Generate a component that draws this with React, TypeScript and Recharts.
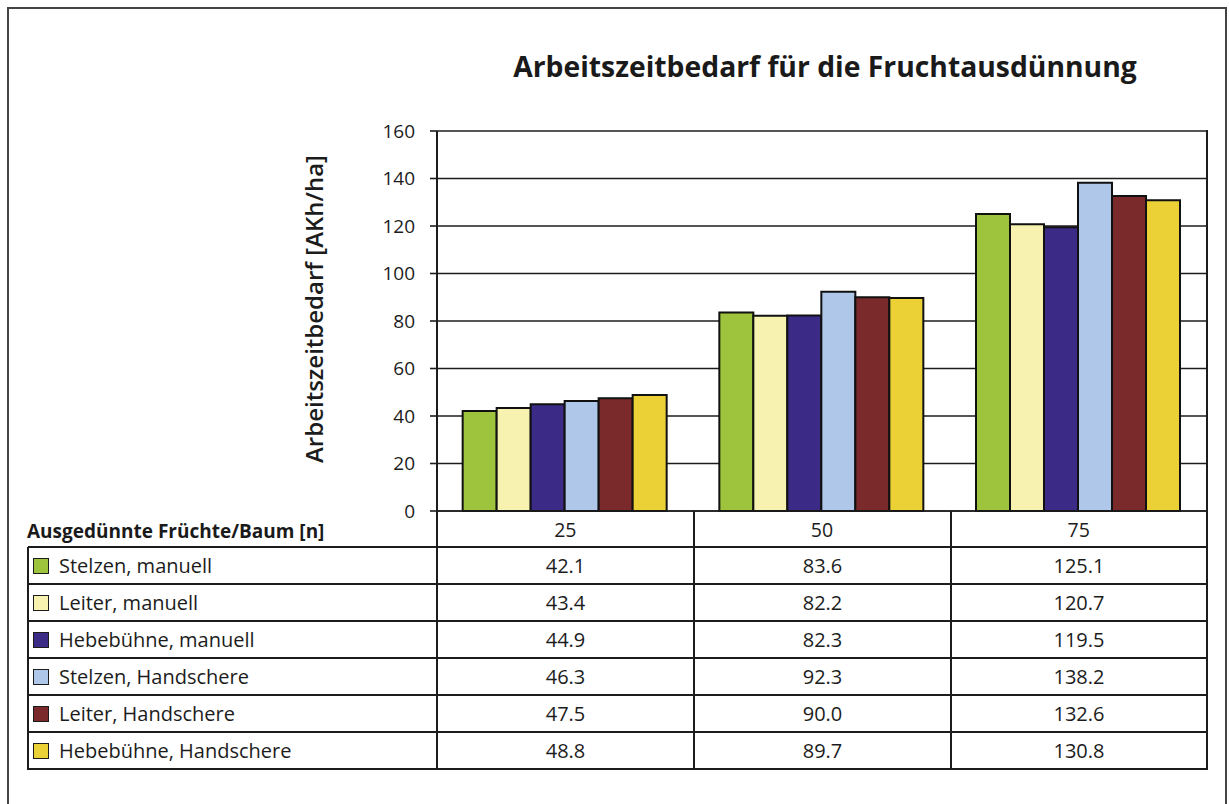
import { BarChart, Bar, XAxis, YAxis, CartesianGrid, Label } from 'recharts';

const categories = ['25', '50', '75'];
const seriesNames = [
  'Stelzen, manuell',
  'Leiter, manuell',
  'Hebebühne, manuell',
  'Stelzen, Handschere',
  'Leiter, Handschere',
  'Hebebühne, Handschere',
];
const seriesColors = ['#9dc43c', '#f7f2b0', '#3b2a86', '#afc8ea', '#7a2a2a', '#ebd136'];

const stelzenManuell = [42.1, 83.6, 125.1];
const leiterManuell = [43.4, 82.2, 120.7];
const hebebuehneManuell = [44.9, 82.3, 119.5];
const stelzenHandschere = [46.3, 92.3, 138.2];
const leiterHandschere = [47.5, 90.0, 132.6];
const hebebuehneHandschere = [48.8, 89.7, 130.8];

const yTicks = [0, 20, 40, 60, 80, 100, 120, 140, 160];

const seriesValues = [
  stelzenManuell,
  leiterManuell,
  hebebuehneManuell,
  stelzenHandschere,
  leiterHandschere,
  hebebuehneHandschere,
];

const data = categories.map((cat, i) => {
  const row: Record<string, string | number> = { cat };
  seriesNames.forEach((name, s) => {
    row[name] = seriesValues[s][i];
  });
  return row;
});

// layout
const W = 1229;
const H = 804;
const plotLeft = 437;
const plotRight = 1207;
const plotTop = 131;
const plotBottom = 511;
const xAxisH = 30;
const yAxisW = 80;
const tableLeft = 28;
const rowTop = 547;
const rowH = 37;
const colX = [437, 694, 951, 1207];
const ink = '#1c1c1c';
const lineW = 1.6;

function HLine({ x1, x2, y }: { x1: number; x2: number; y: number }) {
  return (
    <div
      style={{
        position: 'absolute',
        left: x1,
        top: y - lineW / 2,
        width: x2 - x1,
        height: lineW,
        background: ink,
      }}
    />
  );
}

function VLine({ x, y1, y2 }: { x: number; y1: number; y2: number }) {
  return (
    <div
      style={{
        position: 'absolute',
        left: x - lineW / 2,
        top: y1,
        width: lineW,
        height: y2 - y1,
        background: ink,
      }}
    />
  );
}

function DataTable() {
  const tableBottom = rowTop + rowH * seriesNames.length;
  return (
    <>
      <div
        style={{
          position: 'absolute',
          left: 27,
          top: 519,
          fontSize: 19,
          fontWeight: 700,
          lineHeight: '24px',
          color: '#1a1a1a',
          whiteSpace: 'nowrap',
        }}
      >
        Ausgedünnte Früchte/Baum [n]
      </div>
      {seriesNames.map((name, r) => {
        const top = rowTop + r * rowH;
        return (
          <div key={name}>
            <div
              style={{
                position: 'absolute',
                left: 33,
                top: top + 11,
                width: 14,
                height: 14,
                background: seriesColors[r],
                border: `1.5px solid ${ink}`,
              }}
            />
            <div
              style={{
                position: 'absolute',
                left: 59,
                top: top + 4,
                fontSize: 20,
                lineHeight: '30px',
                color: ink,
                whiteSpace: 'nowrap',
              }}
            >
              {name}
            </div>
            {seriesValues[r].map((v, c) => (
              <div
                key={c}
                style={{
                  position: 'absolute',
                  left: colX[c],
                  width: colX[c + 1] - colX[c],
                  top: top + 4,
                  textAlign: 'center',
                  fontSize: 20,
                  lineHeight: '30px',
                  color: ink,
                }}
              >
                {v.toFixed(1)}
              </div>
            ))}
          </div>
        );
      })}
      {Array.from({ length: seriesNames.length + 1 }, (_, i) => (
        <HLine key={i} x1={tableLeft} x2={plotRight + lineW / 2} y={rowTop + i * rowH} />
      ))}
      <VLine x={tableLeft} y1={rowTop} y2={tableBottom + lineW / 2} />
      <VLine x={colX[0]} y1={plotTop} y2={tableBottom + lineW / 2} />
      <VLine x={colX[1]} y1={plotBottom} y2={tableBottom + lineW / 2} />
      <VLine x={colX[2]} y1={plotBottom} y2={tableBottom + lineW / 2} />
      <VLine x={colX[3]} y1={plotTop - lineW / 2} y2={tableBottom + lineW / 2} />
    </>
  );
}

export default function App() {
  return (
    <div
      style={{
        position: 'absolute',
        left: 0,
        top: 0,
        width: W,
        height: H,
        background: '#fff',
        overflow: 'hidden',
        fontFamily: '"Open Sans", "Noto Sans", sans-serif',
        color: ink,
      }}
    >
      <div
        style={{
          position: 'absolute',
          left: 7,
          top: 7,
          width: 1216,
          height: 820,
          border: '2px solid #444',
        }}
      />
      <div
        style={{
          position: 'absolute',
          left: 425,
          width: 800,
          top: 52,
          textAlign: 'center',
          fontSize: 28.3,
          fontWeight: 700,
          lineHeight: 1,
          color: '#1a1a1a',
          whiteSpace: 'nowrap',
        }}
      >
        Arbeitszeitbedarf für die Fruchtausdünnung
      </div>
      <div style={{ position: 'absolute', left: 0, top: 0 }}>
        <BarChart
          width={W}
          height={H}
          data={data}
          margin={{
            top: plotTop,
            right: W - plotRight,
            bottom: H - plotBottom - xAxisH,
            left: plotLeft - yAxisW,
          }}
          barCategoryGap="10%"
          barGap={0}
        >
          <CartesianGrid horizontal vertical={false} stroke={ink} strokeWidth={lineW} />
          <XAxis
            dataKey="cat"
            height={xAxisH}
            tickLine={false}
            axisLine={{ stroke: ink, strokeWidth: lineW }}
            tickSize={0}
            tickMargin={12}
            tick={{ fill: ink, fontSize: 19.5 }}
            interval={0}
          />
          <YAxis
            width={yAxisW}
            domain={[0, 160]}
            ticks={yTicks}
            interval={0}
            tickSize={7}
            tickMargin={15}
            tickLine={{ stroke: ink, strokeWidth: lineW }}
            axisLine={{ stroke: ink, strokeWidth: lineW }}
            tick={{ fill: ink, fontSize: 19 }}
          >
            <Label
              content={() => (
                <text
                  transform="translate(323, 309) rotate(-90)"
                  textAnchor="middle"
                  fontSize={24}
                  fontWeight={600}
                  fill={ink}
                >
                  Arbeitszeitbedarf [AKh/ha]
                </text>
              )}
            />
          </YAxis>
          {seriesNames.map((name, s) => (
            <Bar
              key={name}
              dataKey={name}
              fill={seriesColors[s]}
              stroke="#111"
              strokeWidth={2}
              isAnimationActive={false}
            />
          ))}
        </BarChart>
      </div>
      <DataTable />
    </div>
  );
}
